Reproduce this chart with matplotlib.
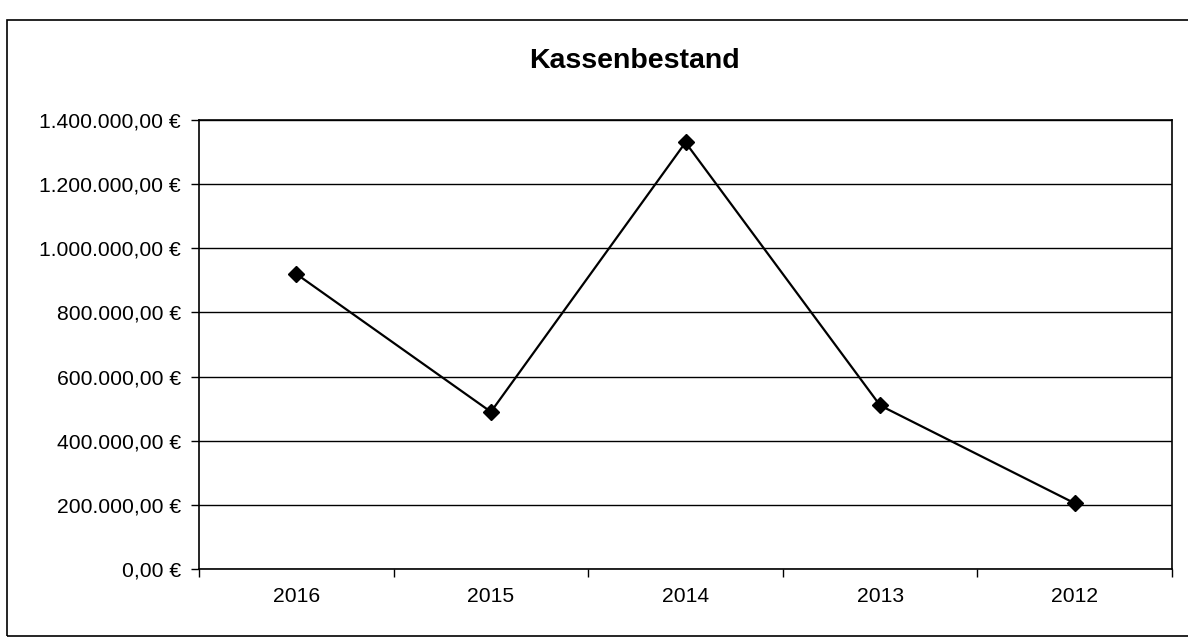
import matplotlib
matplotlib.use("Agg")
import matplotlib.pyplot as plt
from matplotlib.ticker import FuncFormatter, FixedLocator
from matplotlib.patches import Rectangle

years = ["2016", "2015", "2014", "2013", "2012"]
kassenbestand = [920000, 490000, 1330000, 510000, 205000]
y_ticks = [0, 200000, 400000, 600000, 800000, 1000000, 1200000, 1400000]
title = "Kassenbestand"

plt.rcParams["font.family"] = ["Liberation Sans", "DejaVu Sans"]

W, H = 1188, 640
fig = plt.figure(figsize=(W / 100, H / 100), dpi=100)
fig.patch.set_facecolor("white")

# outer chart-area border
fig.patches.append(Rectangle((7 / W, 1 - 636 / H), 1.2, (636 - 20) / H,
                             transform=fig.transFigure, fill=False,
                             edgecolor="black", linewidth=1.2))

ax = fig.add_axes([199 / W, 1 - 569 / H, (1172 - 199) / W, (569 - 120) / H])
x = list(range(len(years)))
ax.plot(x, kassenbestand, color="black", linewidth=1.6, marker="D",
        markersize=8, markerfacecolor="black", markeredgecolor="black", zorder=3)

ax.set_xlim(-0.5, len(years) - 0.5)
ax.set_ylim(0, 1400000)
ax.set_yticks(y_ticks)


def euro(v, pos):
    s = f"{v:,.2f}".replace(",", "X").replace(".", ",").replace("X", ".")
    return s + " €"


ax.yaxis.set_major_formatter(FuncFormatter(euro))
ax.yaxis.grid(True, color="black", linewidth=1.0)
ax.set_axisbelow(True)

ax.set_xticks(x)
ax.set_xticklabels(years)
ax.xaxis.set_minor_locator(FixedLocator([i + 0.5 for i in range(-1, len(years))]))
ax.tick_params(axis="x", which="major", length=0, pad=13, labelsize=15.2)
ax.tick_params(axis="x", which="minor", length=6, width=1, direction="out")
ax.tick_params(axis="y", which="major", length=6, width=1, direction="out",
               pad=7, labelsize=15.2)

for sp in ax.spines.values():
    sp.set_color("black")
    sp.set_linewidth(1.2)

fig.text(634 / W, 1 - 61 / H, title, ha="center", va="center",
         fontsize=20.5, fontweight="bold")

fig.savefig("out.png", dpi=100, facecolor="white")
